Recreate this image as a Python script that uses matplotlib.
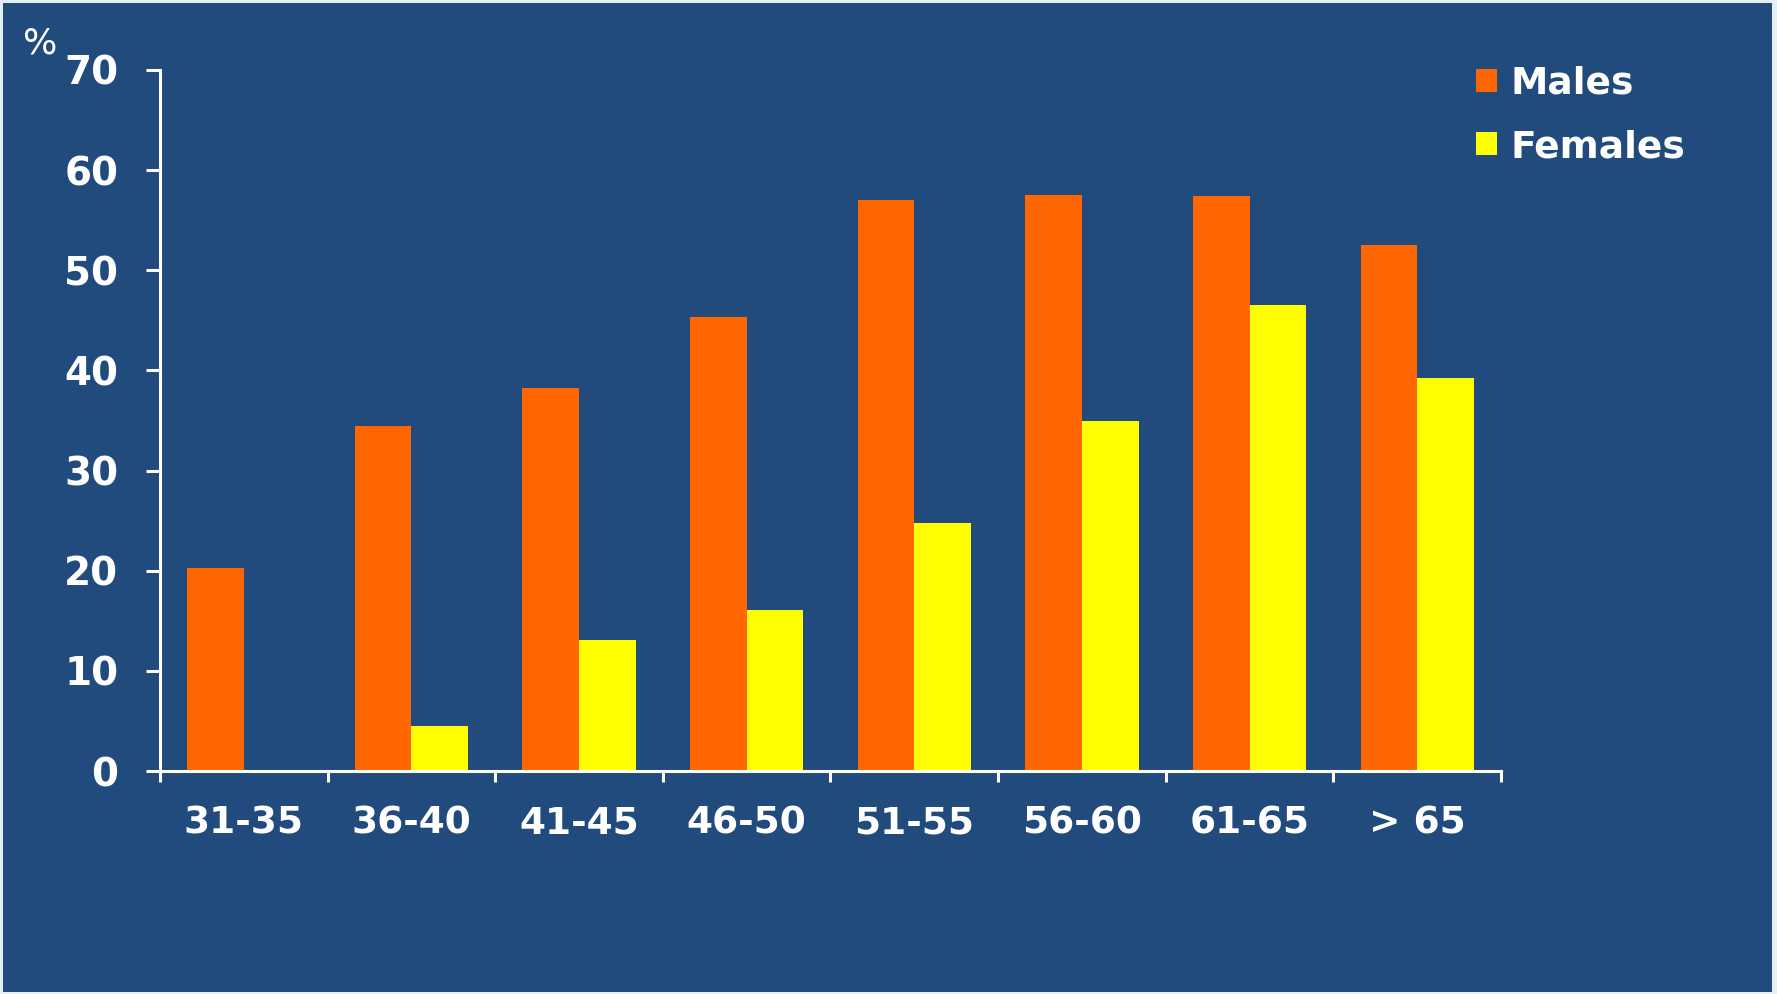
import numpy as np
import matplotlib.pyplot as plt
from matplotlib.patches import Patch, Rectangle

age_groups = ['31-35', '36-40', '41-45', '46-50', '51-55', '56-60', '61-65', '> 65']
males = [20.3, 34.5, 38.2, 45.3, 57.0, 57.5, 57.4, 52.5]
females = [0, 4.5, 13.1, 16.1, 24.8, 35.0, 46.5, 39.2]
y_ticks = [0, 10, 20, 30, 40, 50, 60, 70]

bg = '#214a7d'
orange = '#ff6600'
yellow = '#ffff00'

fig = plt.figure(figsize=(17.77, 9.94), dpi=100)
fig.patch.set_facecolor('#e6eef6')
# dark slide background, light edge round it
fig.patches.append(Rectangle((3 / 1777, 2 / 994), 1 - 8 / 1777, 1 - 5 / 994,
                             transform=fig.transFigure, facecolor=bg,
                             edgecolor='none', zorder=-5))

ax = fig.add_axes([0.0900, 0.2243, 0.7547, 0.7053])
ax.set_facecolor('none')
ax.set_zorder(2)

x = np.arange(len(age_groups))
width = 0.338  # width of one bar
ax.bar(x - width / 2, males, width, color=orange, edgecolor='none')
ax.bar(x + width / 2, females, width, color=yellow, edgecolor='none')

ax.set_xlim(-0.5, len(age_groups) - 0.5)
ax.set_ylim(0, 70)

# tick marks between the groups, labels under the groups
ax.set_xticks(np.arange(-0.5, len(age_groups), 1.0))
ax.set_xticklabels([])
ax.set_xticks(x, minor=True)
ax.set_xticklabels(age_groups, minor=True, fontsize=27, fontweight='bold', color='white')
ax.tick_params(axis='x', which='major', direction='out', length=8, width=2.2, color='white')
ax.tick_params(axis='x', which='minor', length=0, pad=25)

ax.set_yticks(y_ticks)
ax.set_yticklabels([str(v) for v in y_ticks], fontsize=28, fontweight='bold', color='white')
ax.tick_params(axis='y', direction='out', length=10, width=2.2, color='white', pad=20)

for side in ['top', 'right']:
    ax.spines[side].set_visible(False)
for side in ['left', 'bottom']:
    ax.spines[side].set_color('white')
    ax.spines[side].set_linewidth(2.2)

fig.text(40 / 1777, 1 - 43 / 994, '%', fontsize=26, color='white', ha='center', va='center')

handles = [Patch(facecolor=orange), Patch(facecolor=yellow)]
leg = fig.legend(handles, ['Males', 'Females'], loc='upper left',
                 bbox_to_anchor=(1476 / 1777, 1 - 66 / 994), frameon=False,
                 handlelength=0.56, handleheight=0.56, handletextpad=0.35,
                 labelspacing=0.72, borderpad=0, borderaxespad=0,
                 prop={'size': 27, 'weight': 'bold'})
for t in leg.get_texts():
    t.set_color('white')

fig.savefig('out.png', dpi=100, facecolor=fig.get_facecolor())
